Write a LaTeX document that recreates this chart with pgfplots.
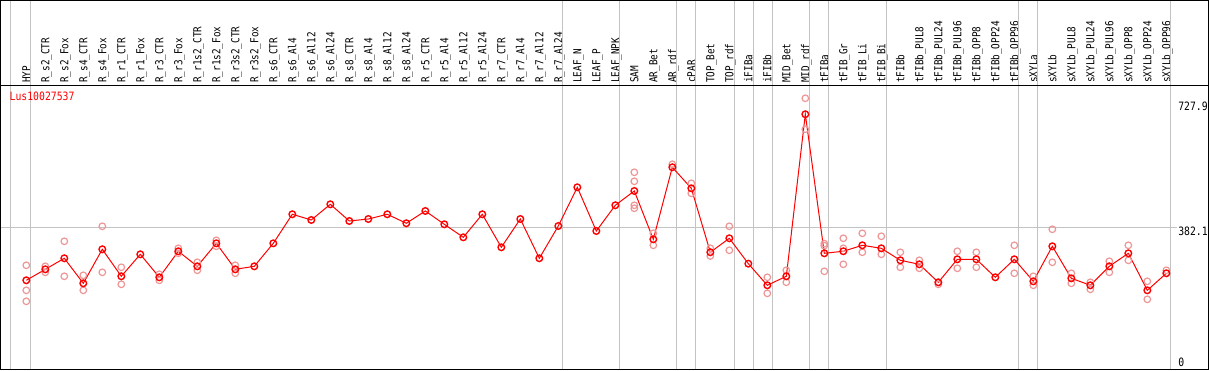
\documentclass[border=0pt]{standalone}
\usepackage{pgfplots}
\pgfplotsset{compat=1.18}
\usepackage{fontspec}
\newfontfamily\lab[FakeStretch=0.85]{DejaVu Sans Mono}
\definecolor{faint}{RGB}{238,150,150}
\definecolor{sep}{RGB}{195,195,195}
\newcommand{\labfont}{\lab\fontsize{11}{12}\selectfont}
\newcommand{\numfont}{\lab\fontsize{11.5}{12}\selectfont}

\pgfplotstableread{
x y
0 242.6
1 271.9
2 301.3
3 234.6
4 325.3
5 253.3
6 311.9
7 250.6
8 319.9
9 279.9
10 341.2
11 271.9
12 279.9
13 341.2
14 418.6
15 403.4
16 445.2
17 400.7
18 406.0
19 418.6
20 394.6
21 427.4
22 391.9
23 357.2
24 418.6
25 330.6
26 406.0
27 301.3
28 387.4
29 490.5
30 374.0
31 442.6
32 480.7
33 351.9
34 543.9
35 487.9
36 317.3
37 354.6
38 286.9
39 229.3
40 253.3
41 685.2
42 314.6
43 320.0
44 335.9
45 327.9
46 295.9
47 285.3
48 237.3
49 298.6
50 298.6
51 250.6
52 298.6
53 239.9
54 333.3
55 247.9
56 229.3
57 279.9
58 314.6
59 215.9
60 261.3
}\meantable

\pgfplotstableread{
x y
0 282.6
0 215.9
0 186.6
1 279.9
1 263.9
2 346.6
2 253.3
3 255.9
3 215.9
4 386.6
4 263.9
5 277.3
5 231.9
7 258.6
7 242.6
8 327.9
8 314.6
9 290.6
9 269.3
10 349.2
10 333.3
11 282.6
11 261.3
32 530.5
32 506.5
32 442.6
32 434.6
33 367.9
33 335.9
34 551.9
35 501.2
35 474.5
36 327.9
36 307.4
37 386.6
37 322.6
39 250.6
39 207.9
40 269.3
40 237.3
41 727.8
41 645.2
42 340.2
42 334.9
42 266.6
43 354.6
43 327.9
43 285.3
44 367.9
44 317.3
45 359.9
45 311.9
46 317.3
46 277.3
47 295.9
47 274.6
48 231.9
49 320.0
49 274.6
50 317.3
50 277.3
52 335.9
52 261.3
53 253.3
53 229.3
54 378.6
54 290.6
55 261.3
55 234.6
56 237.3
56 218.6
57 293.3
57 263.9
58 335.9
58 295.9
59 239.9
59 191.9
60 269.3
}\reptable

\begin{document}
\begin{tikzpicture}[x=1pt,y=1pt]
\useasboundingbox (0,0) rectangle (1209,370);
\begin{axis}[
  at={(0.5pt,0.5pt)}, anchor=south west,
  scale only axis, width=1208pt, height=284pt,
  xmin=-1.358, xmax=62.22, ymin=4.8, ymax=761.9,
  axis line style={black, line width=1pt},
  ytick=\empty,
  xtick={0,...,60},
  xticklabels={HYP,R\_s2\_CTR,R\_s2\_Fox,R\_s4\_CTR,R\_s4\_Fox,R\_r1\_CTR,R\_r1\_Fox,R\_r3\_CTR,R\_r3\_Fox,R\_r1s2\_CTR,R\_r1s2\_Fox,R\_r3s2\_CTR,R\_r3s2\_Fox,R\_s6\_CTR,R\_s6\_Al4,R\_s6\_Al12,R\_s6\_Al24,R\_s8\_CTR,R\_s8\_Al4,R\_s8\_Al12,R\_s8\_Al24,R\_r5\_CTR,R\_r5\_Al4,R\_r5\_Al12,R\_r5\_Al24,R\_r7\_CTR,R\_r7\_Al4,R\_r7\_Al12,R\_r7\_Al24,LEAF\_N,LEAF\_P,LEAF\_NPK,SAM,AR\_Bet,AR\_rdf,cPAR,TOP\_Bet,TOP\_rdf,iFIBa,iFIBb,MID\_Bet,MID\_rdf,tFIBa,tFIB\_Gr,tFIB\_Li,tFIB\_Bi,tFIBb,tFIBb\_PUL8,tFIBb\_PUL24,tFIBb\_PUL96,tFIBb\_OPP8,tFIBb\_OPP24,tFIBb\_OPP96,sXYLa,sXYLb,sXYLb\_PUL8,sXYLb\_PUL24,sXYLb\_PUL96,sXYLb\_OPP8,sXYLb\_OPP24,sXYLb\_OPP96},
  xticklabel pos=right,
  major tick length=0pt,
  xticklabel style={rotate=90, anchor=west, inner ysep=0pt, inner xsep=2.5pt,
    text height=8.1pt, text depth=0pt, font=\labfont},
  clip=false,
]
\pgfplotsinvokeforeach{-0.82,0.23,28.23,31.21,34.24,35.24,37.25,38.25,39.25,41.21,42.24,45.25,52.21,53.21,60.21}{
  \draw[sep, line width=1pt] (axis cs:#1,4.8) -- (axis cs:#1,989.9);
}
\draw[sep, line width=1pt] (axis cs:-1.358,382.1) -- (axis cs:60.55,382.1);
\draw[black, line width=1pt] (axis cs:-1.358,761.9) -- (axis cs:62.22,761.9);

\addplot[only marks, mark=o, color=faint, mark size=3.3pt, mark options={line width=1.2pt}] table[x=x,y=y] {\reptable};
\addplot[red, line width=1pt, mark=o, mark size=3.3pt, mark options={line width=1.4pt}] table[x=x,y=y] {\meantable};

\node[anchor=base west, inner sep=0pt, text=red, font=\numfont] at (axis cs:-0.884,720.6) {Lus10027537};
\node[anchor=base west, inner sep=0pt, font=\numfont] at (axis cs:60.62,694.8) {727.9};
\node[anchor=base west, inner sep=0pt, font=\numfont] at (axis cs:60.62,360.7) {382.1};
\node[anchor=base west, inner sep=0pt, font=\numfont] at (axis cs:60.62,14.1) {0};
\end{axis}
\draw[black, line width=1pt] (0.5,0.5) rectangle (1208.5,369.5);
\end{tikzpicture}
\end{document}
